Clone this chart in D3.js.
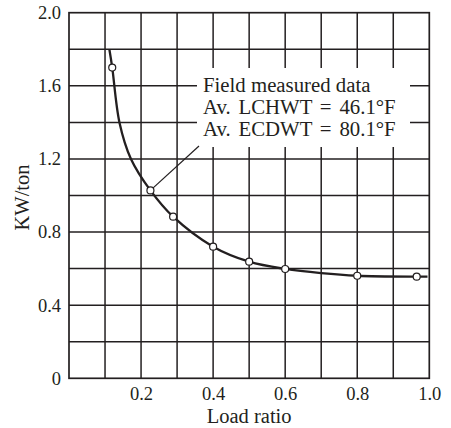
<!DOCTYPE html>
<html>
<head>
<meta charset="utf-8">
<script src="https://cdn.jsdelivr.net/npm/d3@7"></script>
<style>
  html, body { margin: 0; padding: 0; background: #fff; }
  svg { display: block; }
  text { font-family: "Liberation Serif", "Times New Roman", serif; fill: #231f20; }
</style>
</head>
<body>
<svg id="chart" width="451" height="428"></svg>
<script>
// ---- data ----
const loadRatio = [0.12, 0.226, 0.289, 0.40, 0.50, 0.60, 0.80, 0.965];
const kwPerTon  = [1.70, 1.028, 0.884, 0.72, 0.638, 0.598, 0.561, 0.556];
// fitted curve
const curveX = [0.112, 0.12, 0.14, 0.172, 0.226, 0.289, 0.40, 0.50, 0.60, 0.70, 0.80, 0.965, 0.995];
const curveY = [1.80, 1.70, 1.40, 1.20, 1.028, 0.884, 0.72, 0.638, 0.598, 0.575, 0.561, 0.556, 0.556];
const xTicks = [0.2, 0.4, 0.6, 0.8, 1.0];
const yTicks = [0, 0.4, 0.8, 1.2, 1.6, 2.0];
const xGrid = d3.range(1, 10).map(i => i / 10);
const yGrid = d3.range(1, 10).map(i => i / 5);
const noteLines = ["Field measured data", "Av. LCHWT = 46.1\u00B0F", "Av. ECDWT = 80.1\u00B0F"];

// ---- layout ----
const svg = d3.select("#chart");
const x = d3.scaleLinear().domain([0, 1]).range([69, 429.3]);
const y = d3.scaleLinear().domain([0, 2]).range([378.3, 12.7]);
const ink = "#231f20";

// grid
const g = svg.append("g");
g.selectAll(".vg").data(xGrid).join("line")
  .attr("x1", d => x(d)).attr("x2", d => x(d))
  .attr("y1", y(0)).attr("y2", y(2))
  .attr("stroke", ink).attr("stroke-width", 1.5);
g.selectAll(".hg").data(yGrid).join("line")
  .attr("x1", x(0)).attr("x2", x(1))
  .attr("y1", d => y(d)).attr("y2", d => y(d))
  .attr("stroke", ink).attr("stroke-width", 1.5);
// frame
svg.append("rect")
  .attr("x", x(0)).attr("y", y(2))
  .attr("width", x(1) - x(0)).attr("height", y(0) - y(2))
  .attr("fill", "none").attr("stroke", ink).attr("stroke-width", 1.7);

// axes tick labels using d3 axes (no lines)
const xAxis = svg.append("g").attr("transform", `translate(0,${y(0)})`)
  .call(d3.axisBottom(x).tickValues(xTicks).tickSize(0).tickPadding(9).tickFormat(d3.format(".1f")));
xAxis.select(".domain").remove();
xAxis.selectAll("text").style("font-size", "18.5px").attr("fill", ink)
  .attr("font-family", "Liberation Serif");

const yAxis = svg.append("g").attr("transform", `translate(${x(0)},0)`)
  .call(d3.axisLeft(y).tickValues(yTicks).tickSize(0).tickPadding(8)
    .tickFormat(d => d === 0 ? "0" : d3.format(".1f")(d)));
yAxis.select(".domain").remove();
yAxis.selectAll("text").style("font-size", "18.5px").attr("fill", ink)
  .attr("font-family", "Liberation Serif");

// axis titles
svg.append("text").attr("x", (x(0) + x(1)) / 2).attr("y", 423)
  .attr("text-anchor", "middle").style("font-size", "20.5px").text("Load ratio");
svg.append("text")
  .attr("transform", `translate(29,${(y(0) + y(2)) / 2 + 2}) rotate(-90)`)
  .attr("text-anchor", "middle").style("font-size", "20.5px").text("KW/ton");

// annotation box (white, covers grid)
svg.append("rect").attr("x", 197).attr("y", 68).attr("width", 213).attr("height", 79)
  .attr("fill", "#fff");
const note = svg.append("text").style("font-size", "20.8px");
noteLines.forEach((t, i) => {
  note.append("tspan").attr("x", 203).attr("y", 92 + i * 22)
    .style("word-spacing", i === 0 ? "0px" : "2.6px").text(t);
});
// leader line
svg.append("line")
  .attr("x1", 199).attr("y1", 146)
  .attr("x2", x(loadRatio[1])).attr("y2", y(kwPerTon[1]))
  .attr("stroke", ink).attr("stroke-width", 1.2);

// curve
const line = d3.line().x(d => x(d[0])).y(d => y(d[1])).curve(d3.curveCatmullRom.alpha(0.5));
svg.append("path").datum(d3.zip(curveX, curveY))
  .attr("d", line).attr("fill", "none").attr("stroke", ink).attr("stroke-width", 2.3);

// points
svg.selectAll(".pt").data(d3.zip(loadRatio, kwPerTon)).join("circle")
  .attr("cx", d => x(d[0])).attr("cy", d => y(d[1])).attr("r", 3.5)
  .attr("fill", "#fff").attr("stroke", ink).attr("stroke-width", 1.2);
</script>
</body>
</html>
